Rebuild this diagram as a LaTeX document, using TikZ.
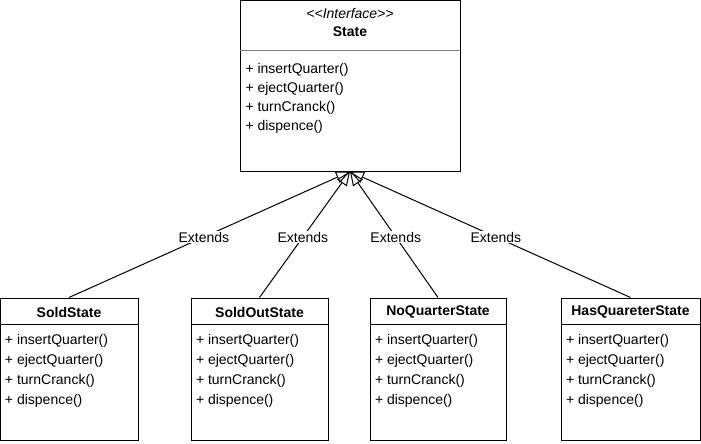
\documentclass[tikz,border=0pt]{standalone}
\usepackage{fontspec}
\setmainfont{Liberation Sans}
\usetikzlibrary{arrows.meta}
\tikzset{every picture/.style={line width=1pt}}
\tikzset{
	cls/.style={draw, fill=white, rectangle, inner sep=0pt},
	op/.style={anchor=west, inner sep=0pt, font=\fontsize{14}{16}\selectfont},
	ttl/.style={inner sep=0pt, font=\fontsize{14}{16}\selectfont\bfseries},
	lbl/.style={fill=white, inner sep=1pt, font=\fontsize{14}{16}\selectfont},
	ext/.style={-{Triangle[open, length=14pt, width=12pt]}}
}
% one state class below the interface
\newcommand{\stateclass}[4]{%
	\node[cls, minimum width=#3, minimum height=142] (#1) at (#2,369) {};
	\draw (#1.north west) ++(0,27) -- ++(#3,0);
	\node[ttl] (#1-t) at (#2,312) {#4};
	\node[op] (#1-a) at ([xshift=5]#1.west |- 0,341) {+ insertQuarter()};
	\node[op] (#1-b) at ([xshift=5]#1.west |- 0,361) {+ ejectQuarter()};
	\node[op] (#1-c) at ([xshift=5]#1.west |- 0,381) {+ turnCranck()};
	\node[op] (#1-d) at ([xshift=5]#1.west |- 0,401) {+ dispence()};
}

\begin{document}
\begin{tikzpicture}[x=1pt,y=-1pt]
	\useasboundingbox (0,0) rectangle (701,444);

	% Interface
	\node[cls, minimum width=220, minimum height=170] (state) at (350,86) {};
	\draw[line width=0.5pt, gray] (240,50) -- (460,50);
	\node[inner sep=0pt, font=\fontsize{14}{16}\selectfont\itshape] (stereo) at (350,13) {{<}{<}Interface{>}{>}};
	\node[ttl] (state-t) at (350,32) {State};
	\node[op] (state-a) at (245,70) {+ insertQuarter()};
	\node[op] (state-b) at (245,89) {+ ejectQuarter()};
	\node[op] (state-c) at (245,108) {+ turnCranck()};
	\node[op] (state-d) at (245,127) {+ dispence()};

	% Concrete states
	\stateclass{sold}{69}{138}{SoldState}
	\stateclass{soldout}{259.5}{137}{SoldOutState}
	\stateclass{noquarter}{438}{136}{NoQuarterState}
	\stateclass{hasquarter}{630.5}{139}{HasQuareterState}

	% Extends
	\foreach \s in {sold,soldout,noquarter,hasquarter}
		\draw[ext] (\s.north) -- node[lbl, pos=0.48] {Extends} (state.south);
\end{tikzpicture}
\end{document}
